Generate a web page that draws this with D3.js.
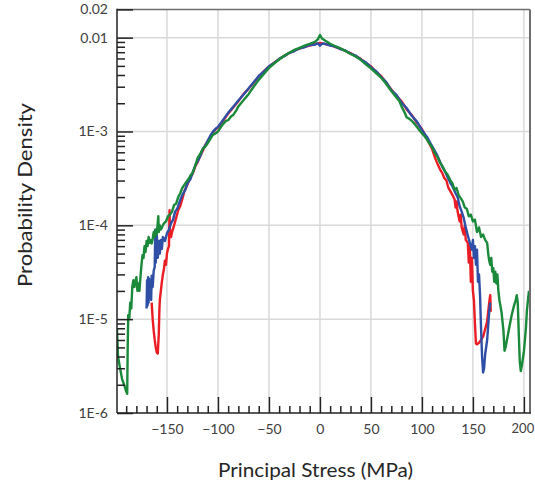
<!DOCTYPE html>
<html>
<head>
<meta charset="utf-8">
<script src="https://cdn.jsdelivr.net/npm/d3@7"></script>
<style>
  html, body { margin: 0; padding: 0; background: #fff; }
  svg { display: block; }
</style>
</head>
<body>
<svg id="chart" width="535" height="483"></svg>
<script>
// ---------- DATA ----------
const xTickValues = [-150, -100, -50, 0, 50, 100, 150, 200];
const xMinorTickValues = [-190,-180,-170,-160,-140,-130,-120,-110,-90,-80,-70,-60,-40,-30,-20,-10,10,20,30,40,60,70,80,90,110,120,130,140,160,170,180,190];
const yTickValues = [0.02, 0.01, 1e-3, 1e-4, 1e-5, 1e-6];
const yTickLabels = ["0.02", "0.01", "1E-3", "1E-4", "1E-5", "1E-6"];
const yGridValues = [1e-2, 1e-3, 1e-4, 1e-5];
const yMinorTickValues = [2e-6,3e-6,4e-6,5e-6,6e-6,7e-6,8e-6,9e-6,2e-5,3e-5,4e-5,5e-5,6e-5,7e-5,8e-5,9e-5,2e-4,3e-4,4e-4,5e-4,6e-4,7e-4,8e-4,9e-4,2e-3,3e-3,4e-3,5e-3,6e-3,7e-3,8e-3,9e-3];

const redSeries = [
  [-165,1.5e-5],[-164,1.0e-5],[-163,7.5e-6],[-162,6.0e-6],[-161,5.0e-6],[-160,4.4e-6],[-159,4.3e-6],[-158,7e-6],[-157.5,1.2e-5],[-157,1.6e-5],[-156,2.0e-5],[-155,2.5e-5],[-154,3.0e-5],[-153,3.4e-5],[-152,4.2e-5],[-151,3.8e-5],[-150,5.0e-5],[-149,5.6e-5],[-148,6.0e-5],[-147.5,1.45e-4],[-147,8.5e-5],[-146,7.5e-5],[-145,8.5e-5],[-143,1.0e-4],[-141,1.2e-4],[-139,1.45e-4],[-137,1.6e-4],[-135,1.9e-4],[-133,2.3e-4],[-130,2.7e-4],[-127,3.3e-4],[-125,3.5e-4],[-122,4.3e-4],[-120,4.7e-4],[-117,5.6e-4],[-115,6.2e-4],[-112,7.3e-4],[-110,7.8e-4],[-107,9.0e-4],[-105,9.8e-4],[-102,1.06e-3],
  [-100,1.1e-3],[-95,1.3e-3],[-90,1.55e-3],[-85,1.8e-3],[-80,2.1e-3],[-75,2.5e-3],[-70,2.85e-3],[-65,3.3e-3],[-60,3.85e-3],[-55,4.4e-3],[-50,4.9e-3],[-45,5.4e-3],[-40,5.9e-3],[-35,6.4e-3],[-30,6.85e-3],[-25,7.3e-3],[-20,7.65e-3],[-15,8.0e-3],[-10,8.25e-3],[-5,8.55e-3],[0,8.8e-3],[5,8.55e-3],[10,8.35e-3],[15,7.95e-3],[20,7.65e-3],[25,7.2e-3],[30,6.85e-3],[35,6.35e-3],[40,5.95e-3],[45,5.35e-3],[50,4.95e-3],[55,4.3e-3],[60,3.9e-3],[65,3.3e-3],[70,2.8e-3],[75,2.4e-3],[80,2.1e-3],[85,1.72e-3],[90,1.5e-3],[95,1.24e-3],[100,1.06e-3],
  [103,9.2e-4],[105,8.3e-4],[108,7.2e-4],[110,6.5e-4],[113,5.2e-4],[115,4.6e-4],[118,3.9e-4],[120,3.6e-4],[122,3.2e-4],[124,3.0e-4],[126,2.5e-4],[128,2.3e-4],[130,2.1e-4],[132,1.9e-4],[133,1.55e-4],[134,1.8e-4],[135,1.4e-4],[137,1.1e-4],[138,1.3e-4],[139,9.5e-5],[141,8e-5],[142,1.0e-4],[143,7.0e-5],[145,6.5e-5],[146,4.0e-5],[147,6.0e-5],[148,2.5e-5],[149,4.5e-5],[150,2.0e-5],[151,1.6e-5],[152,9e-6],[153,5.5e-6],[154,5.4e-6],[156,5.6e-6],[158,6.0e-6],[160,6.5e-6],[162,7.8e-6],[164,9.5e-6],[165,1.2e-5],[166,1.5e-5],[167,1.8e-5],[167.5,1.2e-5]
];

const blueSeries = [
  [-170,1.3e-5],[-169.5,2.6e-5],[-169,1.4e-5],[-168.5,2.8e-5],[-168,1.5e-5],[-167.5,2.7e-5],[-167,1.7e-5],[-166,2.4e-5],[-165.5,1.6e-5],[-165,2.9e-5],[-164,2.2e-5],[-163,3.3e-5],[-162,3.6e-5],[-161.5,9.0e-5],[-161,4.0e-5],[-160,8.0e-5],[-159,4.5e-5],[-158,6.8e-5],[-157,5.0e-5],[-156,7.0e-5],[-155,5.6e-5],[-154,7.5e-5],[-152,6.8e-5],[-150,8.2e-5],[-148,9.0e-5],[-146,1.05e-4],[-144,1.15e-4],[-142,1.4e-4],[-140,1.5e-4],[-137,1.86e-4],[-135,2.1e-4],[-132,2.4e-4],[-130,2.8e-4],[-127,3.1e-4],[-125,3.6e-4],[-122,4.4e-4],[-120,4.8e-4],[-117,5.6e-4],[-115,6.5e-4],[-112,7.2e-4],[-110,8.0e-4],[-107,9.2e-4],[-105,9.9e-4],[-102,1.08e-3],
  [-100,1.12e-3],[-95,1.33e-3],[-90,1.58e-3],[-85,1.83e-3],[-80,2.14e-3],[-75,2.46e-3],[-70,2.88e-3],[-65,3.35e-3],[-60,3.9e-3],[-55,4.35e-3],[-50,4.95e-3],[-45,5.35e-3],[-40,5.95e-3],[-35,6.35e-3],[-30,6.9e-3],[-25,7.2e-3],[-20,7.7e-3],[-15,7.9e-3],[-10,8.35e-3],[-5,8.4e-3],[-2,8.7e-3],[0,8.2e-3],[2,8.6e-3],[5,8.6e-3],[10,8.25e-3],[15,8.05e-3],[20,7.55e-3],[25,7.3e-3],[30,6.75e-3],[35,6.45e-3],[40,5.85e-3],[45,5.45e-3],[50,4.85e-3],[55,4.4e-3],[60,3.8e-3],[65,3.35e-3],[70,2.75e-3],[75,2.45e-3],[80,2.03e-3],[85,1.78e-3],[90,1.47e-3],[95,1.28e-3],[100,1.04e-3],
  [103,9.3e-4],[105,8.8e-4],[108,7.6e-4],[110,7.0e-4],[113,6.1e-4],[115,5.6e-4],[118,4.7e-4],[120,4.2e-4],[123,3.7e-4],[125,3.3e-4],[128,2.8e-4],[130,2.6e-4],[133,2.2e-4],[135,2.0e-4],[137,1.6e-4],[139,1.4e-4],[141,1.2e-4],[143,9.5e-5],[145,7.8e-5],[147,6.5e-5],[149,5.5e-5],[150,7.0e-5],[151,4.5e-5],[152,6.0e-5],[153,3.8e-5],[154,5.5e-5],[155,2.5e-5],[156,3.0e-5],[157,1.8e-5],[158,8e-6],[159,4e-6],[160,2.7e-6],[161,3.0e-6],[162,4.2e-6],[164,6.0e-6],[165,8.5e-6],[166,1.2e-5],[167,1.5e-5]
];

const greenSeries = [
  [-199,8e-6],[-198,4.0e-6],[-196,3.0e-6],[-194,2.3e-6],[-192,2.0e-6],[-190,1.7e-6],[-189,1.6e-6],[-188.5,5e-6],[-188,1.1e-5],[-187,1.0e-5],[-186,1.5e-5],[-185,1.3e-5],[-184,2.2e-5],[-183,2.6e-5],[-182,2.2e-5],[-181,2.5e-5],[-180,2.8e-5],[-179,2.0e-5],[-178,2.4e-5],[-177,2.0e-5],[-176,2.8e-5],[-175,3.8e-5],[-174,4.8e-5],[-173,4.5e-5],[-172,6.0e-5],[-171,5.2e-5],[-170,6.8e-5],[-169,6.0e-5],[-168,7.5e-5],[-167,6.5e-5],[-166,7.0e-5],[-165,6.4e-5],[-164,7.2e-5],[-163,8.5e-5],[-162,7.5e-5],[-161,9.0e-5],[-160,8.0e-5],[-158.5,1.25e-4],[-158,8.5e-5],[-157,1.0e-4],[-156,9.0e-5],[-155,9.5e-5],[-153,1.05e-4],[-151,1.1e-4],[-149,1.25e-4],[-147,1.3e-4],[-145,1.4e-4],[-143,1.65e-4],[-141,1.7e-4],[-139,2.0e-4],[-137,2.2e-4],[-135,2.5e-4],[-133,2.7e-4],[-131,2.9e-4],[-129,3.1e-4],[-127,3.4e-4],[-125,3.6e-4],[-122,4.4e-4],[-120,5.2e-4],[-117,5.9e-4],[-115,6.5e-4],[-112,7.0e-4],[-110,7.5e-4],[-107,8.5e-4],[-105,9.2e-4],[-102,9.6e-4],
  [-100,1.0e-3],[-97,1.12e-3],[-95,1.2e-3],[-92,1.3e-3],[-90,1.32e-3],[-87,1.45e-3],[-85,1.5e-3],[-82,1.68e-3],[-80,1.85e-3],[-75,2.15e-3],[-70,2.5e-3],[-65,3.0e-3],[-60,3.55e-3],[-55,4.1e-3],[-50,4.75e-3],[-45,5.3e-3],[-40,5.85e-3],[-35,6.4e-3],[-30,6.9e-3],[-25,7.4e-3],[-20,7.8e-3],[-15,8.2e-3],[-10,8.6e-3],[-5,9.0e-3],[-2,9.6e-3],[0,1.07e-2],[2,9.8e-3],[5,9.3e-3],[10,8.6e-3],[15,8.1e-3],[20,7.7e-3],[25,7.2e-3],[30,6.7e-3],[35,6.3e-3],[40,5.8e-3],[45,5.2e-3],[50,4.7e-3],[55,4.2e-3],[60,3.75e-3],[65,3.2e-3],[70,2.7e-3],[75,2.3e-3],[78,2.1e-3],[80,1.85e-3],[83,1.6e-3],[85,1.42e-3],[87,1.38e-3],[90,1.3e-3],[93,1.2e-3],[95,1.12e-3],[98,1.02e-3],[100,9.6e-4],
  [103,8.8e-4],[105,8.2e-4],[108,7.3e-4],[110,6.8e-4],[113,5.8e-4],[115,5.4e-4],[118,4.6e-4],[120,4.3e-4],[123,3.7e-4],[125,3.5e-4],[128,3.0e-4],[130,2.8e-4],[132,2.4e-4],[134,2.5e-4],[136,2.1e-4],[138,1.95e-4],[140,1.8e-4],[142,1.55e-4],[144,1.5e-4],[146,1.25e-4],[148,1.3e-4],[150,1.1e-4],[152,1.15e-4],[154,8.5e-5],[156,9.5e-5],[158,7.5e-5],[160,8.0e-5],[162,7.0e-5],[164,6.5e-5],[165,5.0e-5],[166,4.2e-5],[167,3.8e-5],[168,4.5e-5],[169,3.2e-5],[170,3.5e-5],[171,2.5e-5],[172,3.2e-5],[173,2.4e-5],[174,3.0e-5],[175,2.0e-5],[176,1.6e-5],[178,1.2e-5],[180,7.5e-6],[181,4.6e-6],[182,5.0e-6],[184,6.5e-6],[186,8.5e-6],[188,1.1e-5],[190,1.35e-5],[192,1.6e-5],[193,1.8e-5],[194,1.5e-5],[195,7e-6],[196,3.5e-6],[197,2.8e-6],[198,3.2e-6],[200,4.5e-6],[202,8e-6],[203,1.25e-5],[204,1.6e-5],[205,2.0e-5]
];

const seriesList = [
  { name: "red", data: redSeries, color: "#ec1c24" },
  { name: "blue", data: blueSeries, color: "#2f4ea6" },
  { name: "green", data: greenSeries, color: "#1a8a3a" }
];

// ---------- CHART ----------
const svg = d3.select("#chart");
const L = 117, R = 530, T = 9.4, B = 413;
const x = d3.scaleLinear().domain([-199, 206]).range([L, R]);
const y = d3.scaleLog().domain([1e-6, 0.02]).range([B, T]);

const font = "Lato, 'Open Sans', sans-serif";
const textColor = "#404040";

// grid
const grid = svg.append("g");
grid.selectAll("line.v").data(xTickValues).join("line")
  .attr("x1", d => x(d)).attr("x2", d => x(d)).attr("y1", T).attr("y2", B)
  .attr("stroke", "#d9d9d9").attr("stroke-width", 1.5);
grid.selectAll("line.h").data(yGridValues).join("line")
  .attr("x1", L).attr("x2", R).attr("y1", d => y(d)).attr("y2", d => y(d))
  .attr("stroke", "#d9d9d9").attr("stroke-width", 1.5);

// clip
svg.append("clipPath").attr("id", "clip").append("rect")
  .attr("x", L).attr("y", T).attr("width", R - L).attr("height", B - T);

const line = d3.line().x(d => x(d[0])).y(d => y(d[1]));
svg.append("g").attr("clip-path", "url(#clip)")
  .selectAll("path").data(seriesList).join("path")
  .attr("d", d => line(d.data))
  .attr("fill", "none")
  .attr("stroke", d => d.color)
  .attr("stroke-width", 2.4)
  .attr("stroke-linejoin", "round");

// frame (top/right)
svg.append("line").attr("x1", L).attr("x2", R).attr("y1", T).attr("y2", T)
  .attr("stroke", "#6e6e6e").attr("stroke-width", 1.5);
svg.append("line").attr("x1", R).attr("x2", R).attr("y1", T).attr("y2", B)
  .attr("stroke", "#6e6e6e").attr("stroke-width", 2);

// y axis
const yMinor = svg.append("g").attr("transform", `translate(${L},0)`)
  .call(d3.axisLeft(y).tickValues(yMinorTickValues).tickSize(-8).tickFormat(""));
const yMajor = svg.append("g").attr("transform", `translate(${L},0)`)
  .call(d3.axisLeft(y).tickValues(yTickValues).tickSize(-16).tickPadding(9)
    .tickFormat((d, i) => yTickLabels[i]));

// x axis
const xMinor = svg.append("g").attr("transform", `translate(0,${B})`)
  .call(d3.axisBottom(x).tickValues(xMinorTickValues).tickSize(-7).tickFormat(""));
const xMajor = svg.append("g").attr("transform", `translate(0,${B})`)
  .call(d3.axisBottom(x).tickValues(xTickValues).tickSize(-16).tickPadding(11)
    .tickFormat(d3.format("d")));

[yMinor, yMajor, xMinor, xMajor].forEach(g => {
  g.select(".domain").remove();
  g.selectAll(".tick line").attr("stroke", "#222").attr("stroke-width", 1.5);
  g.selectAll(".tick text").attr("fill", textColor)
    .style("font-family", font).style("font-size", "14px");
});
xMajor.selectAll(".tick text").attr("dy", "0.71em");
// keep the last label inside the page edge
xMajor.selectAll(".tick text").filter(d => d === 200)
  .style("font-size", "13px").attr("dx", "-1.5");

// axis lines
svg.append("line").attr("x1", L).attr("x2", L).attr("y1", T - 0.75).attr("y2", B)
  .attr("stroke", "#222").attr("stroke-width", 1.5);
svg.append("line").attr("x1", L).attr("x2", R + 1).attr("y1", B).attr("y2", B)
  .attr("stroke", "#222").attr("stroke-width", 1.5);

// titles
svg.append("text")
  .attr("transform", `translate(32,195) rotate(-90)`)
  .attr("text-anchor", "middle")
  .attr("textLength", 184).attr("lengthAdjust", "spacingAndGlyphs")
  .style("font-family", font).style("font-size", "20px")
  .attr("fill", "#262626")
  .text("Probability Density");
svg.append("text")
  .attr("x", 315.5).attr("y", 477)
  .attr("text-anchor", "middle")
  .attr("textLength", 195).attr("lengthAdjust", "spacingAndGlyphs")
  .style("font-family", font).style("font-size", "20px")
  .attr("fill", "#262626")
  .text("Principal Stress (MPa)");
</script>
</body>
</html>
